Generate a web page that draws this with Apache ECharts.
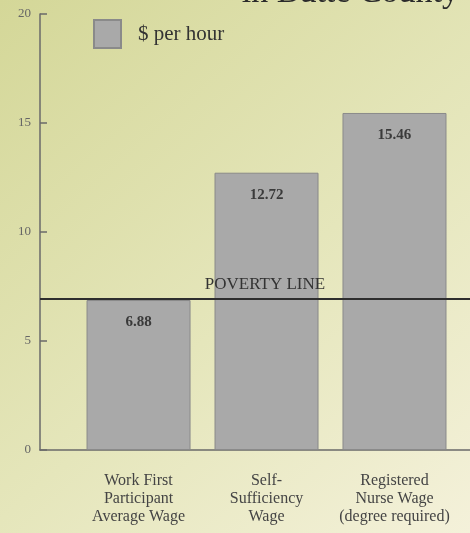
<!DOCTYPE html>
<html>
<head>
<meta charset="utf-8">
<script src="https://cdn.jsdelivr.net/npm/echarts@6/dist/echarts.min.js"></script>
<style>
    html, body { margin: 0; padding: 0; }
    #chart { width: 470px; height: 533px; }
</style>
</head>
<body>
<div id="chart"></div>
<script>
    // categories and values
    var categories = [
        'Work First\nParticipant\nAverage Wage',
        'Self-\nSufficiency\nWage',
        'Registered\nNurse Wage\n(degree required)'
    ];
    var wages = [6.88, 12.72, 15.46];
    var povertyLine = 6.95;
    var yTicks = [0, 5, 10, 15, 20];

    var serif = '"Liberation Serif", "DejaVu Serif", serif';

    var chart = echarts.init(document.getElementById('chart'));

    chart.setOption({
        backgroundColor: new echarts.graphic.LinearGradient(0, 0, 1, 1, [
            {offset: 0, color: '#d4d798'},
            {offset: 0.55, color: '#e5e6bb'},
            {offset: 1, color: '#f4f1da'}
        ]),
        animation: false,
        title: {
            text: 'in Butte County',
            right: 6,
            top: -29,
            textStyle: {
                fontFamily: serif,
                fontSize: 34,
                fontWeight: 'normal',
                color: '#2a2a2a'
            }
        },
        legend: {
            left: 88,
            top: 14,
            icon: 'rect',
            itemWidth: 27,
            itemHeight: 28,
            textStyle: {
                fontFamily: serif,
                fontSize: 21,
                color: '#333',
                padding: [0, 0, 0, 12]
            },
            data: ['$ per hour']
        },
        grid: {
            top: 14,
            bottom: 83,
            left: 40,
            right: 0
        },
        xAxis: {
            type: 'value',
            min: -0.77,
            max: 2.59,
            splitLine: {show: false},
            axisTick: {show: false},
            axisLine: {
                onZero: false,
                lineStyle: {color: '#6a6a6a', width: 1.5}
            },
            axisLabel: {
                customValues: [0, 1, 2],
                formatter: function (v) {
                    return categories[Math.round(v)];
                },
                margin: 22,
                lineHeight: 18,
                fontFamily: serif,
                fontSize: 16,
                color: '#444'
            }
        },
        yAxis: {
            type: 'value',
            min: yTicks[0],
            max: yTicks[yTicks.length - 1],
            interval: 5,
            splitLine: {show: false},
            axisLine: {
                show: true,
                onZero: false,
                lineStyle: {color: '#6a6a6a', width: 1.5}
            },
            axisTick: {
                show: true,
                inside: true,
                length: 7,
                lineStyle: {color: '#6a6a6a', width: 1.5}
            },
            axisLabel: {
                margin: 9,
                fontFamily: serif,
                fontSize: 13,
                color: '#666'
            }
        },
        series: [
            {
                name: '$ per hour',
                type: 'bar',
                barWidth: 104,
                data: wages.map(function (w, i) {
                    return [i, w];
                }),
                itemStyle: {
                    color: '#a9a9a9',
                    borderColor: '#8a8a8a',
                    borderWidth: 1
                },
                label: {
                    show: true,
                    position: 'insideTop',
                    distance: 15,
                    formatter: function (p) {
                        return p.value[1].toFixed(2);
                    },
                    fontFamily: serif,
                    fontSize: 15,
                    fontWeight: 'bold',
                    color: '#3a3a3a'
                },
                markLine: {
                    symbol: 'none',
                    silent: true,
                    lineStyle: {
                        type: 'solid',
                        color: '#2e2e2e',
                        width: 2
                    },
                    label: {
                        position: 'insideMiddleTop',
                        formatter: 'POVERTY LINE',
                        distance: 5,
                        offset: [10, 0],
                        fontFamily: serif,
                        fontSize: 17,
                        color: '#333'
                    },
                    data: [{yAxis: povertyLine}]
                }
            }
        ]
    });
</script>
</body>
</html>
